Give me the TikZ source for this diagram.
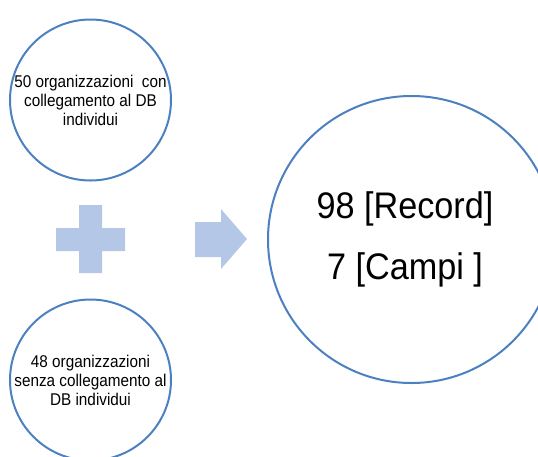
\documentclass[tikz,border=0pt]{standalone}
\usepackage{fontspec}
\setmainfont{Liberation Sans}
\newfontfamily\orgfont{Liberation Sans}[FakeStretch=0.9]
\newfontfamily\totfont{Liberation Sans}[FakeStretch=0.925]
\usetikzlibrary{positioning}
\definecolor{ringblue}{RGB}{76,128,192}
\definecolor{shapeblue}{RGB}{180,199,231}

\begin{document}
\begin{tikzpicture}[x=1pt, y=-1pt,
  ring/.style={draw=ringblue, line width=2pt, circle, inner sep=0pt, align=center},
  org/.style={ring, minimum size=161pt, font=\orgfont\fontsize{17}{19}\selectfont},
]
\useasboundingbox (0,0) rectangle (538,456);
\clip (0,0) rectangle (538,456);

\node[org] (con)   at (90.5,100) {50 organizzazioni~ con\\collegamento al DB\\individui};
\node[org] (senza) at (90.5,380) {48 organizzazioni\\senza collegamento al\\DB individui};
\node[ring, minimum size=287pt] (tot) at (411.5,239.5) {};
\node[align=center, inner sep=0pt, font=\totfont\fontsize{37}{60.7}\selectfont]
  (totext) at ([xshift=-6.5pt]tot.center) {98 [Record]\\7 [Campi ]};

\fill[shapeblue] (79,205) -- (102,205) -- (102,228) -- (125,228) -- (125,251) -- (102,251)
  -- (102,273) -- (79,273) -- (79,251) -- (56,251) -- (56,228) -- (79,228) -- cycle;
\fill[shapeblue] (195,222) -- (221,222) -- (221,209) -- (247,239) -- (221,269) -- (221,257)
  -- (195,257) -- cycle;
\end{tikzpicture}
\end{document}
